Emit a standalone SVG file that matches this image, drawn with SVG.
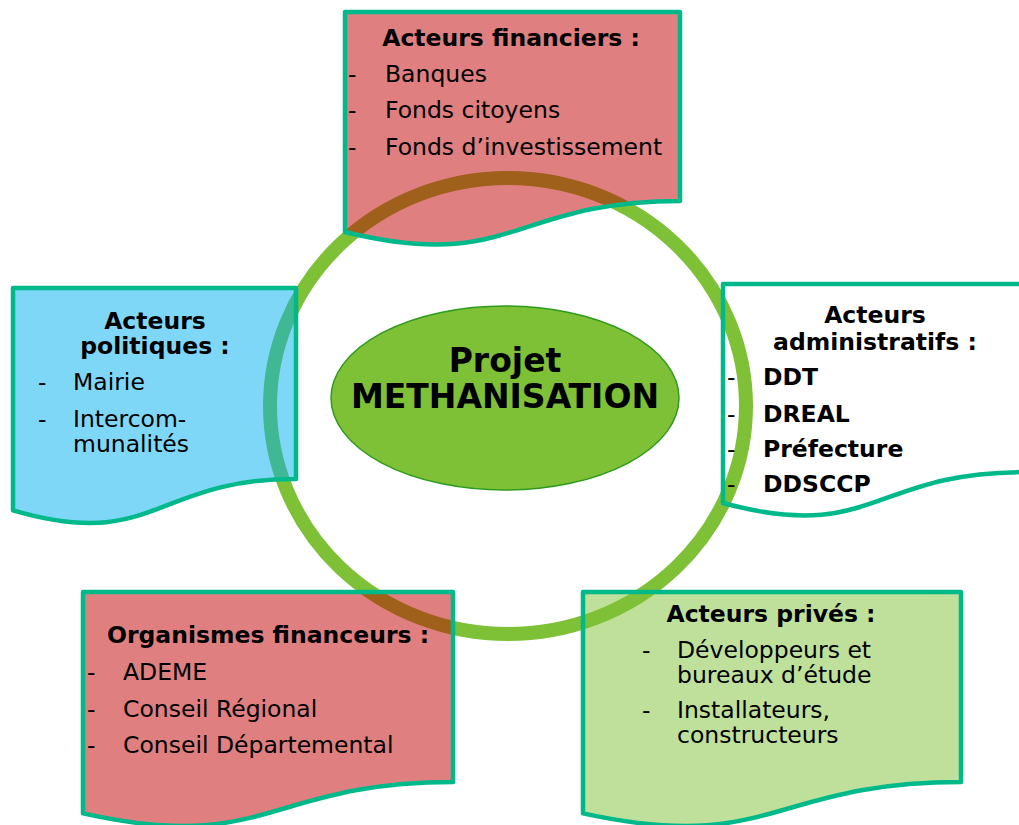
<svg xmlns="http://www.w3.org/2000/svg" width="1019" height="825" viewBox="0 0 1019 825">
<style>
text{font-family:"DejaVu Sans","Verdana",sans-serif;font-size:23.5px;fill:#000}
.t{font-weight:bold;text-anchor:middle}
.b{font-weight:bold}
.doc{stroke:#00B98A;stroke-width:4.5;stroke-linejoin:round}
</style>
<rect width="1019" height="825" fill="#fff"/>
<g id="connectors">
<ellipse cx="508" cy="406" rx="238" ry="228" fill="none" stroke="#7EC136" stroke-width="14"/>
</g>
<g id="centre">
<ellipse cx="505" cy="398" rx="174" ry="92" fill="#7EC136" stroke="#2F9A1E" stroke-width="1.5"/>
<text x="505" y="372" class="t" style="font-size:33px">Projet</text>
<text x="505" y="408" class="t" style="font-size:33px">METHANISATION</text>
</g>
<g id="financiers">
<path class="doc" d="M345,12 H680 V200.9 C512.5,200.9 512.5,272.8 345,232 Z" fill="#C00000" fill-opacity="0.5"/>
<text x="511" y="46" class="t">Acteurs financiers :</text>
<text x="348" y="82">-</text><text x="385" y="82">Banques</text>
<text x="348" y="118">-</text><text x="385" y="118">Fonds citoyens</text>
<text x="348" y="155">-</text><text x="385" y="155">Fonds d’investissement</text>
</g>
<g id="politiques">
<path class="doc" d="M13,288 H296 V478.9 C154.5,478.9 154.5,551.6 13,510.3 Z" fill="#00B0F0" fill-opacity="0.5"/>
<text x="155" y="329" class="t">Acteurs</text>
<text x="155" y="354" class="t">politiques :</text>
<text x="38" y="390">-</text><text x="73" y="390">Mairie</text>
<text x="38" y="427">-</text><text x="73" y="427">Intercom-</text>
<text x="73" y="452">munalités</text>
</g>
<g id="administratifs">
<path class="doc" d="M723,284 H1023 V472.1 C873,472.1 873,543.7 723,503 Z" fill="none"/>
<text x="875" y="323" class="t">Acteurs</text>
<text x="875" y="350" class="t">administratifs :</text>
<text x="727" y="385">-</text><text x="763" y="385" class="b">DDT</text>
<text x="727" y="422">-</text><text x="763" y="422" class="b">DREAL</text>
<text x="727" y="457">-</text><text x="763" y="457" class="b">Préfecture</text>
<text x="727" y="492">-</text><text x="763" y="492" class="b">DDSCCP</text>
</g>
<g id="organismes">
<path class="doc" d="M83,592 H453 V782.1 C268,782.1 268,854.5 83,813.4 Z" fill="#C00000" fill-opacity="0.5"/>
<text x="268" y="643" class="t">Organismes financeurs :</text>
<text x="87" y="680">-</text><text x="123" y="680">ADEME</text>
<text x="87" y="717">-</text><text x="123" y="717">Conseil Régional</text>
<text x="87" y="753">-</text><text x="123" y="753">Conseil Départemental</text>
</g>
<g id="prives">
<path class="doc" d="M583,592 H961 V782.1 C772,782.1 772,854.5 583,813.4 Z" fill="#7FC136" fill-opacity="0.5"/>
<text x="771" y="622" class="t">Acteurs privés :</text>
<text x="642" y="658">-</text><text x="677" y="658">Développeurs et</text>
<text x="677" y="683">bureaux d’étude</text>
<text x="642" y="718">-</text><text x="677" y="718">Installateurs,</text>
<text x="677" y="743">constructeurs</text>
</g>
</svg>
